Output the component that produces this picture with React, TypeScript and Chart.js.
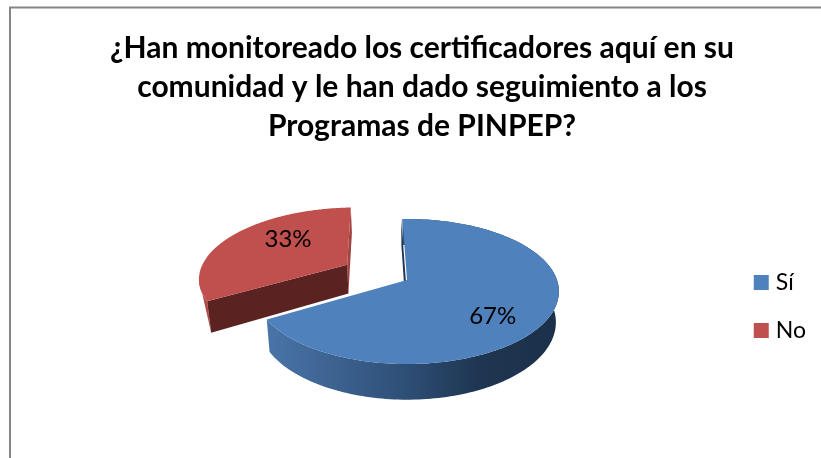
import React, { useEffect, useRef } from "react";
import { Chart, registerables } from "chart.js";

Chart.register(...registerables);

const categories = ["Sí", "No"];
const values = [67, 33];
const percentLabels = ["67%", "33%"];
const titleLines = [
  "¿Han monitoreado los certificadores aquí en su",
  "comunidad y le han dado seguimiento a los",
  "Programas de PINPEP?",
];
const sliceColors = ["#4f81bd", "#c0504d"];
const sliceOffsets = [0, 47];

const FONT = "Lato, Carlito, sans-serif";
const CX = 407, CY = 280, RX = 150, RY = 70.7, PERSP = 0.1586, DEPTH = 30, CONVERGE = 0.02;

function project(u: number, v: number) {
  const k = 1 + PERSP * v;
  return { x: CX + (RX * u) / k, y: CY - (RY * v) / k, k };
}
function lower(p: { x: number; y: number; k: number }) {
  return { x: p.x + (CX - p.x) * CONVERGE, y: p.y + DEPTH / p.k };
}

const pie3d = {
  id: "pie3d",
  beforeDraw(chart: any) {
    const { ctx } = chart;
    ctx.save();
    ctx.strokeStyle = "#868686";
    ctx.lineWidth = 2;
    ctx.beginPath();
    ctx.moveTo(10, 458);
    ctx.lineTo(10, 7.5);
    ctx.lineTo(821, 7.5);
    ctx.stroke();
    ctx.restore();
  },
  beforeDatasetsDraw(chart: any) {
    const { ctx } = chart;
    const arcs = chart.getDatasetMeta(0).data;
    const order = [1, 0];
    ctx.save();
    for (const i of order) {
      const arc = arcs[i];
      const { startAngle, endAngle, outerRadius } = arc.getProps(["startAngle", "endAngle", "outerRadius"], true);
      const t0 = startAngle + Math.PI / 2;
      const t1 = endAngle + Math.PI / 2;
      const mid = (t0 + t1) / 2;
      const f = (arc.options.offset || 0) / outerRadius;
      const ou = Math.sin(mid) * f, ov = Math.cos(mid) * f;
      const rim = (t: number) => project(ou + Math.sin(t), ov + Math.cos(t));
      const apex = project(ou, ov);
      const steps = 180;
      const pts: any[] = [];
      for (let s = 0; s <= steps; s++) pts.push(rim(t0 + ((t1 - t0) * s) / steps));

      // outer side
      const xs = pts.map((p) => p.x);
      const minX = Math.min(...xs), maxX = Math.max(...xs);
      const grad = ctx.createLinearGradient(minX, 0, maxX, 0);
      if (i === 0) {
        grad.addColorStop(0, "#4a74a8");
        grad.addColorStop(0.45, "#2f5179");
        grad.addColorStop(0.72, "#1f3652");
        grad.addColorStop(1, "#1b3049");
      } else {
        grad.addColorStop(0, "#b34b48");
        grad.addColorStop(1, "#a04341");
      }
      ctx.fillStyle = grad;
      ctx.beginPath();
      if (i === 0) {
        pts.forEach((p, n) => (n ? ctx.lineTo(p.x, p.y) : ctx.moveTo(p.x, p.y)));
        for (let n = pts.length - 1; n >= 0; n--) {
          const l = lower(pts[n]);
          ctx.lineTo(l.x, l.y);
        }
      } else {
        // the exploded slice only shows a narrow strip from its leftmost point down to the cut
        const leftmost = xs.indexOf(minX);
        const tipLow = lower(pts[0]);
        ctx.moveTo(tipLow.x, tipLow.y);
        for (let n = 0; n <= leftmost; n++) ctx.lineTo(pts[n].x, pts[n].y);
      }
      ctx.closePath();
      ctx.fill();

      // cut walls
      const wall = (p: any, color: string, shift: number) => {
        const a = lower(apex), b = lower(p);
        ctx.fillStyle = color;
        ctx.beginPath();
        ctx.moveTo(apex.x + shift, apex.y);
        ctx.lineTo(p.x + shift, p.y);
        ctx.lineTo(b.x + shift, b.y);
        ctx.lineTo(a.x + shift, a.y);
        ctx.closePath();
        ctx.fill();
      };
      if (i === 0) {
        wall(pts[0], "#1f3652", -1.2);
      } else {
        wall(pts[pts.length - 1], "#a04341", 0);
        wall(pts[0], "#5a2322", 0);
      }

      // top face
      ctx.fillStyle = sliceColors[i];
      ctx.beginPath();
      ctx.moveTo(apex.x, apex.y);
      pts.forEach((p) => ctx.lineTo(p.x, p.y));
      ctx.closePath();
      ctx.fill();
    }

    // percentage labels
    ctx.fillStyle = "#000";
    ctx.font = `24px ${FONT}`;
    ctx.textAlign = "center";
    ctx.textBaseline = "middle";
    const nudges = [
      { r: 0.62, dy: 14 },
      { r: 0.5, dy: -10 },
    ];
    arcs.forEach((arc: any, i: number) => {
      const { startAngle, endAngle, outerRadius } = arc.getProps(["startAngle", "endAngle", "outerRadius"], true);
      const mid = (startAngle + endAngle) / 2 + Math.PI / 2;
      const f = (arc.options.offset || 0) / outerRadius + nudges[i].r;
      const p = project(Math.sin(mid) * f, Math.cos(mid) * f);
      ctx.fillText(percentLabels[i], p.x, p.y + nudges[i].dy);
    });
    ctx.restore();
    return false;
  },
};

export default function App() {
  const ref = useRef<HTMLCanvasElement>(null);
  useEffect(() => {
    const chart = new Chart(ref.current!, {
      type: "pie",
      data: {
        labels: categories,
        datasets: [
          {
            data: values,
            backgroundColor: sliceColors,
            borderWidth: 0,
            offset: sliceOffsets,
          },
        ],
      },
      options: {
        responsive: false,
        animation: false,
        rotation: -2,
        radius: 100,
        layout: { padding: { top: 29, right: 5, left: 28 } },
        plugins: {
          tooltip: { enabled: false },
          title: {
            display: true,
            text: titleLines,
            color: "#000",
            font: { family: FONT, size: 30, weight: "bold", lineHeight: 1.3 },
            padding: { top: 0, bottom: 9 },
          },
          legend: {
            position: "right",
            fullSize: false,
            labels: {
              color: "#000",
              font: { family: FONT, size: 23 },
              boxWidth: 6,
              boxHeight: 15,
              usePointStyle: true,
              pointStyle: "rect",
              padding: 25,
            },
          },
        },
      },
      plugins: [pie3d],
    } as any);
    return () => chart.destroy();
  }, []);
  return (
    <canvas
      ref={ref}
      width={821}
      height={458}
      style={{ position: "absolute", left: 0, top: 0, width: 821, height: 458, display: "block", background: "#fff" }}
    />
  );
}
